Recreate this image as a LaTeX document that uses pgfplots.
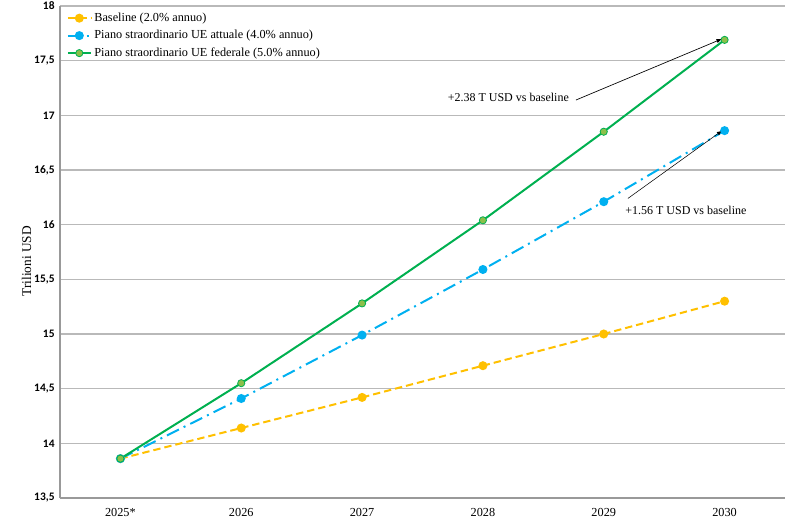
\documentclass[border=0pt]{standalone}
\usepackage{pgfplots}
\pgfplotsset{compat=1.18}
\usepackage{fontspec}
\setmainfont{Liberation Serif}
\newfontfamily\tickfont{Carlito}
\definecolor{cBase}{HTML}{FFC000}
\definecolor{cAtt}{HTML}{00B0F0}
\definecolor{cFed}{HTML}{00B050}
\definecolor{cFedFill}{HTML}{8CBF4A}
\begin{document}
\begin{tikzpicture}
\begin{axis}[
    name=ax,
    scale only axis,
    width=543.75pt, height=369pt,
    xmin=-0.5, xmax=5.5,
    ymin=13.5, ymax=18,
    xtick={0,1,2,3,4,5},
    xticklabels={2025*,2026,2027,2028,2029,2030},
    ytick={13.5,14,14.5,15,15.5,16,16.5,17,17.5,18},
    /pgf/number format/use comma,
    /pgf/number format/assume math mode=true,
    yticklabel style={font=\tickfont\bfseries\fontsize{8.6}{10}\selectfont, xshift=-0.5pt},
    xticklabel style={font=\fontsize{9.2}{11}\selectfont, yshift=-4.5pt},
    major tick length=0pt,
    axis x line=bottom, axis y line=left,
    axis line style={-, draw=gray!80, line width=0.8pt},
    ymajorgrids=true,
    grid style={gray!55, line width=0.8pt},
    ylabel={Trilioni USD},
    ylabel style={font=\fontsize{9.2}{11}\selectfont},
    every axis y label/.style={at={(rel axis cs:0,0.5)}, rotate=90, anchor=center, yshift=25pt, xshift=-7pt},
    clip=false,
    legend style={at={(0.0,1.0)}, anchor=north west, draw=none, fill=none,
        font=\fontsize{9.2}{11}\selectfont, legend cell align=left,
        row sep=1.2pt, xshift=2pt, yshift=-1pt},
]
\addplot[cBase, line width=1.5pt, dash pattern=on 5.5pt off 3pt, mark=*, mark size=2.6pt, mark options={solid, fill=cBase, draw=cBase}]
 coordinates {(0,13.86) (1,14.14) (2,14.42) (3,14.71) (4,15.00) (5,15.30)};
\addlegendentry{Baseline (2.0\% annuo)}
\addplot[cAtt, line width=1.5pt, dash pattern=on 10pt off 4pt on 1.5pt off 4pt, mark=*, mark size=2.6pt, mark options={solid, fill=cAtt, draw=cAtt}]
 coordinates {(0,13.86) (1,14.41) (2,14.99) (3,15.59) (4,16.21) (5,16.86)};
\addlegendentry{Piano straordinario UE attuale (4.0\% annuo)}
\addplot[cFed, line width=1.5pt, mark=*, mark size=2.7pt, mark options={solid, fill=cFedFill, draw=cFed, line width=0.6pt}]
 coordinates {(0,13.86) (1,14.55) (2,15.28) (3,16.04) (4,16.85) (5,17.69)};
\addlegendentry{Piano straordinario UE federale (5.0\% annuo)}
\node[font=\fontsize{9}{11}\selectfont] at (axis cs:3.21,17.16) {+2.38 T USD vs baseline};
\draw[-latex, line width=0.5pt] (axis cs:3.77,17.14) -- (axis cs:4.98,17.70);
\node[font=\fontsize{9}{11}\selectfont] at (axis cs:4.68,16.13) {+1.56 T USD vs baseline};
\draw[-latex, line width=0.4pt] (axis cs:4.2,16.24) -- (axis cs:4.98,16.86);
\end{axis}
\pgfresetboundingbox
\path ([xshift=-45pt,yshift=-18pt]ax.south west) rectangle ([xshift=11.25pt,yshift=4.5pt]ax.north east);
\end{tikzpicture}
\end{document}
